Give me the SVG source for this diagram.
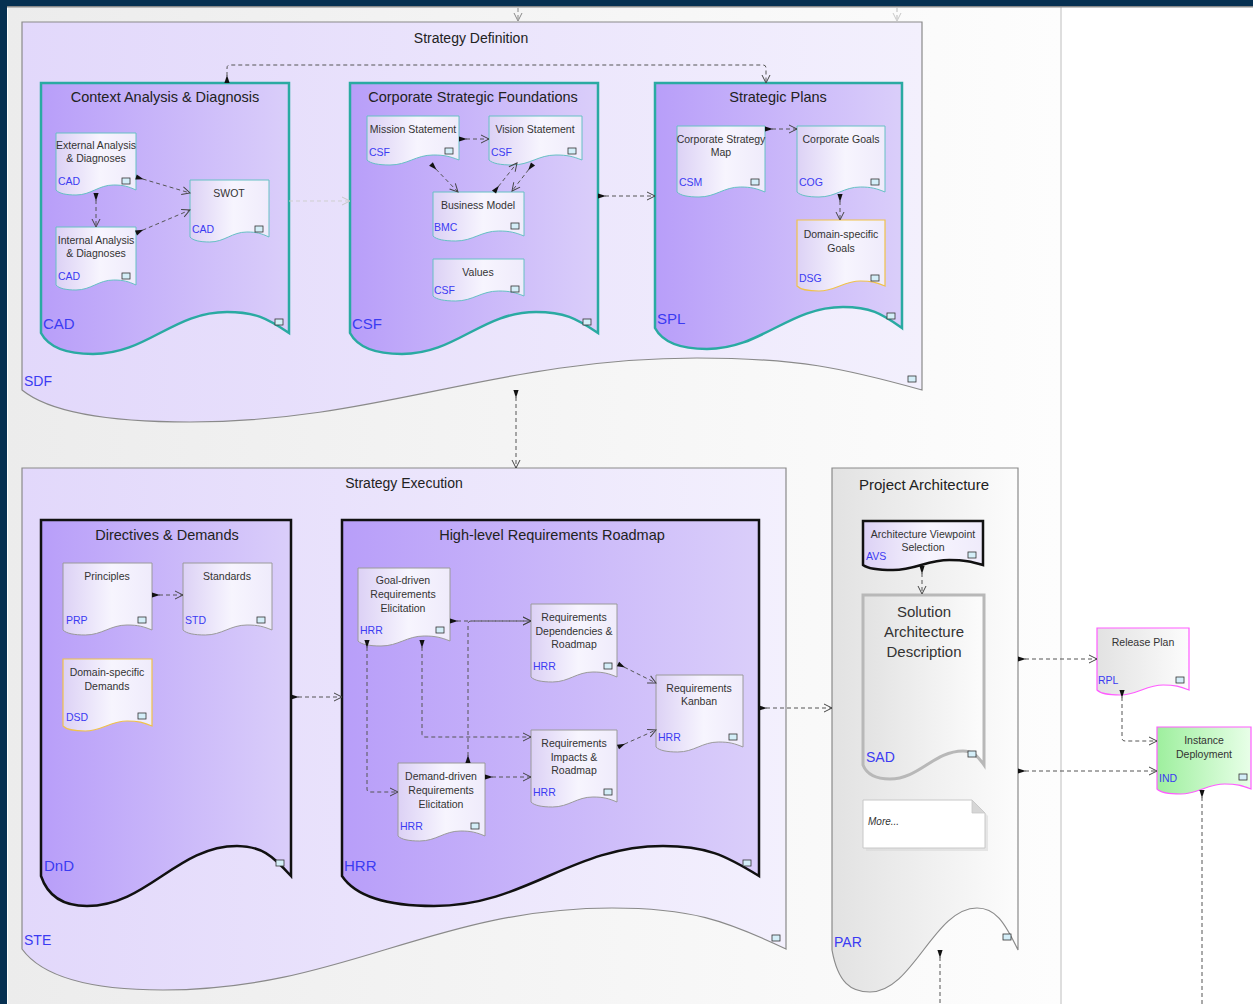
<svg xmlns="http://www.w3.org/2000/svg" width="1253" height="1004" viewBox="0 0 1253 1004">
<defs>
<linearGradient id="gBg" x1="0" y1="0" x2="1" y2="0"><stop offset="0" stop-color="#ececec"/><stop offset="1" stop-color="#fdfdfd"/></linearGradient>
<linearGradient id="gOuter" x1="0" y1="0" x2="1" y2="0"><stop offset="0" stop-color="#e2d8fb"/><stop offset="1" stop-color="#f3f0fd"/></linearGradient>
<linearGradient id="gInner" x1="0" y1="0" x2="1" y2="0"><stop offset="0" stop-color="#b89ef9"/><stop offset="1" stop-color="#dacefa"/></linearGradient>
<linearGradient id="gNode" x1="0" y1="0" x2="1" y2="0"><stop offset="0" stop-color="#dcd1f5"/><stop offset="0.55" stop-color="#f7f5fe"/><stop offset="1" stop-color="#efebfb"/></linearGradient>
<linearGradient id="gGray" x1="0" y1="0" x2="1" y2="0"><stop offset="0" stop-color="#e2e2e2"/><stop offset="1" stop-color="#fcfcfc"/></linearGradient>
<linearGradient id="gGreen" x1="0" y1="0" x2="1" y2="0"><stop offset="0" stop-color="#9eef9e"/><stop offset="1" stop-color="#e8ffe8"/></linearGradient>
<marker id="src" markerUnits="userSpaceOnUse" markerWidth="12" markerHeight="8" viewBox="-1 -4 12 8" refX="0" refY="0" orient="auto"><path d="M0,-2.6 L8,0 L0,2.6 Z" fill="#111"/></marker>
<marker id="arr" markerUnits="userSpaceOnUse" markerWidth="12" markerHeight="12" viewBox="-10 -6 12 12" refX="0" refY="0" orient="auto"><path d="M-8,-4 L0,0 L-8,4" fill="none" stroke="#444" stroke-width="1"/></marker>
<marker id="arrL" markerUnits="userSpaceOnUse" markerWidth="12" markerHeight="12" viewBox="-10 -6 12 12" refX="0" refY="0" orient="auto"><path d="M-8,-4 L0,0 L-8,4" fill="none" stroke="#c8c8c8" stroke-width="1"/></marker>
<marker id="arrG" markerUnits="userSpaceOnUse" markerWidth="12" markerHeight="12" viewBox="-10 -6 12 12" refX="0" refY="0" orient="auto"><path d="M-8,-4 L0,0 L-8,4" fill="none" stroke="#888" stroke-width="1"/></marker>
</defs>
<style>
text{font-family:"Liberation Sans",Arial,sans-serif}
.outer{fill:url(#gOuter);stroke:#8a8a8a;stroke-width:1.2}
.inner{fill:url(#gInner);stroke:#2aaaa2;stroke-width:2.5}
.innerB{fill:url(#gInner);stroke:#111;stroke-width:2.5}
.node{fill:url(#gNode);stroke:#66c0c4;stroke-width:1}
.nodeG{fill:url(#gNode);stroke:#9a9a9a;stroke-width:1}
.nodeY{fill:url(#gNode);stroke:#f0c24a;stroke-width:1.2}
.nodeP{fill:url(#gGray);stroke:#ff5cff;stroke-width:1.2}
.nodeGr{fill:url(#gGreen);stroke:#ff5cff;stroke-width:1.2}
.title{font-size:14.5px;fill:#222;text-anchor:middle}
.ttl{font-size:14px;fill:#222;text-anchor:middle}
.nt{font-size:10.5px;fill:#333;text-anchor:middle}
.code{font-size:10.5px;fill:#3b3bf2}
.codeB{font-size:15px;fill:#3b3bf2}
.ico{fill:#d4eef8;stroke:#333;stroke-width:0.8}
.conn{fill:none;stroke:#555;stroke-width:1;stroke-dasharray:4 3;marker-start:url(#src);marker-end:url(#arr)}
</style>

<!-- background -->
<rect x="0" y="0" width="1253" height="1004" fill="#ffffff"/>
<rect x="8" y="7" width="1052" height="997" fill="url(#gBg)"/>
<rect x="1060" y="7" width="2" height="997" fill="#dedede"/>
<rect x="0" y="0" width="1253" height="6" fill="#063051"/>
<rect x="0" y="6" width="1253" height="1.5" fill="#8a8a8a"/>
<rect x="0" y="0" width="7" height="1004" fill="#063051"/>

<!-- Strategy Definition -->
<g id="SDF">
<path class="outer" d="M22,22 H922 V390 C843,368 798,358 697,358 C498,358 379,422 190,422 C106,422 49,412 22,390 Z"/>
<text class="ttl" x="471" y="43">Strategy Definition</text>
<text class="codeB" x="24" y="386" style="font-size:14px">SDF</text>
<rect class="ico" x="908" y="376" width="8" height="6"/>
</g>

<g id="CAD">
<path class="inner" d="M41,83 H289 V333 C267,318 255,312 227,312 C173,312 147,354 93,354 C67,354 49,348 41,333 Z"/>
<text class="title" x="165" y="102">Context Analysis &amp; Diagnosis</text>
<text class="codeB" x="43" y="329">CAD</text>
<rect class="ico" x="275" y="319" width="8" height="6"/>
</g>
<g id="EXT">
<path class="node" d="M56,133 H136 V190 c-7.8,-3.5 -12.3,-5 -22.4,-5 c-15,0 -22.6,10 -37.6,10 c-10,0 -17,-1.5 -20,-5 Z"/>
<text class="nt" x="96" y="149">External Analysis</text>
<text class="nt" x="96" y="162">&amp; Diagnoses</text>
<text class="code" x="58" y="185">CAD</text>
<rect class="ico" x="122" y="178" width="8" height="6"/>
</g>
<g id="INT">
<path class="node" d="M56,227 H136 V285 c-7.8,-3.5 -12.3,-5 -22.4,-5 c-15,0 -22.6,10 -37.6,10 c-10,0 -17,-1.5 -20,-5 Z"/>
<text class="nt" x="96" y="244">Internal Analysis</text>
<text class="nt" x="96" y="257">&amp; Diagnoses</text>
<text class="code" x="58" y="280">CAD</text>
<rect class="ico" x="122" y="273" width="8" height="6"/>
</g>
<g id="SWOT">
<path class="node" d="M190,180 H269 V237 c-7.7,-3.5 -12.2,-5 -22.1,-5 c-14.9,0 -22.3,10 -37.15,10 c-9.9,0 -16.8,-1.5 -19.75,-5 Z"/>
<text class="nt" x="229" y="197">SWOT</text>
<text class="code" x="192" y="233">CAD</text>
<rect class="ico" x="255" y="226" width="8" height="6"/>
</g>

<g id="CSF">
<path class="inner" d="M350,83 H598 V333 C576,318 564,312 536,312 C482,312 456,354 402,354 C376,354 358,348 350,333 Z"/>
<text class="title" x="473" y="102">Corporate Strategic Foundations</text>
<text class="codeB" x="352" y="329">CSF</text>
<rect class="ico" x="583" y="319" width="8" height="6"/>
</g>
<g id="MIS">
<path class="node" d="M367,116 H459 V160 c-9,-3.5 -14.2,-5 -25.76,-5 c-17.3,0 -25.9,10 -43.24,10 c-11.5,0 -19.6,-1.5 -23,-5 Z"/>
<text class="nt" x="413" y="133">Mission Statement</text>
<text class="code" x="369" y="156">CSF</text>
<rect class="ico" x="445" y="148" width="8" height="6"/>
</g>
<g id="VIS">
<path class="node" d="M489,116 H582 V160 c-9.1,-3.5 -14.3,-5 -26.04,-5 c-17.5,0 -26.2,10 -43.71,10 c-11.6,0 -19.8,-1.5 -23.25,-5 Z"/>
<text class="nt" x="535" y="133">Vision Statement</text>
<text class="code" x="491" y="156">CSF</text>
<rect class="ico" x="568" y="148" width="8" height="6"/>
</g>
<g id="BMC">
<path class="node" d="M433,192 H524 V236 c-8.9,-3.5 -14,-5 -25.48,-5 c-17.1,0 -25.7,10 -42.77,10 c-11.4,0 -19.3,-1.5 -22.75,-5 Z"/>
<text class="nt" x="478" y="209">Business Model</text>
<text class="code" x="434" y="231">BMC</text>
<rect class="ico" x="511" y="223" width="8" height="6"/>
</g>
<g id="VAL">
<path class="node" d="M433,259 H524 V296 c-8.9,-3.5 -14,-5 -25.48,-5 c-17.1,0 -25.7,10 -42.77,10 c-11.4,0 -19.3,-1.5 -22.75,-5 Z"/>
<text class="nt" x="478" y="276">Values</text>
<text class="code" x="434" y="294">CSF</text>
<rect class="ico" x="511" y="286" width="8" height="6"/>
</g>

<g id="SPL">
<path class="inner" d="M655,83 H902 V328 C881,313 870,307 843,307 C789,307 761,349 707,349 C681,349 663,343 655,328 Z"/>
<text class="title" x="778" y="102">Strategic Plans</text>
<text class="codeB" x="657" y="324">SPL</text>
<rect class="ico" x="887" y="313" width="8" height="6"/>
</g>
<g id="CSM">
<path class="node" d="M677,126 H765 V192 c-8.6,-3.5 -13.6,-5 -24.64,-5 c-16.5,0 -24.8,10 -41.36,10 c-11,0 -18.7,-1.5 -22,-5 Z"/>
<text class="nt" x="721" y="143">Corporate Strategy</text>
<text class="nt" x="721" y="156">Map</text>
<text class="code" x="679" y="186">CSM</text>
<rect class="ico" x="751" y="179" width="8" height="6"/>
</g>
<g id="COG">
<path class="node" d="M797,126 H885 V192 c-8.6,-3.5 -13.6,-5 -24.64,-5 c-16.5,0 -24.8,10 -41.36,10 c-11,0 -18.7,-1.5 -22,-5 Z"/>
<text class="nt" x="841" y="143">Corporate Goals</text>
<text class="code" x="799" y="186">COG</text>
<rect class="ico" x="871" y="179" width="8" height="6"/>
</g>
<g id="DSG">
<path class="nodeY" d="M797,220 H885 V286 c-8.6,-3.5 -13.6,-5 -24.64,-5 c-16.5,0 -24.8,10 -41.36,10 c-11,0 -18.7,-1.5 -22,-5 Z"/>
<text class="nt" x="841" y="238">Domain-specific</text>
<text class="nt" x="841" y="252">Goals</text>
<text class="code" x="799" y="282">DSG</text>
<rect class="ico" x="871" y="275" width="8" height="6"/>
</g>

<!-- Strategy Execution -->
<g id="STE">
<path class="outer" d="M22,468 H786 V949 C725,920 690,908 612,908 C432,908 343,990 163,990 C93,990 43,978 22,949 Z"/>
<text class="ttl" x="404" y="488">Strategy Execution</text>
<text class="codeB" x="24" y="945" style="font-size:14px">STE</text>
<rect class="ico" x="772" y="935" width="8" height="6"/>
</g>

<g id="DND">
<path class="innerB" d="M41,520 H291 V876 C272,855 261,846 237,846 C177,846 147,906 87,906 C64,906 48,897 41,876 Z"/>
<text class="title" x="167" y="540">Directives &amp; Demands</text>
<text class="codeB" x="44" y="871">DnD</text>
<rect class="ico" x="276" y="860" width="8" height="6"/>
</g>
<g id="PRP">
<path class="nodeG" d="M63,563 H152 V630 c-8.7,-3.5 -13.7,-5 -24.92,-5 c-16.7,0 -25.1,10 -41.83,10 c-11.1,0 -18.9,-1.5 -22.25,-5 Z"/>
<text class="nt" x="107" y="580">Principles</text>
<text class="code" x="66" y="624">PRP</text>
<rect class="ico" x="138" y="617" width="8" height="6"/>
</g>
<g id="STD">
<path class="nodeG" d="M183,563 H272 V630 c-8.7,-3.5 -13.7,-5 -24.92,-5 c-16.7,0 -25.1,10 -41.83,10 c-11.1,0 -18.9,-1.5 -22.25,-5 Z"/>
<text class="nt" x="227" y="580">Standards</text>
<text class="code" x="185" y="624">STD</text>
<rect class="ico" x="257" y="617" width="8" height="6"/>
</g>
<g id="DSD">
<path class="nodeY" d="M63,659 H152 V726 c-8.7,-3.5 -13.7,-5 -24.92,-5 c-16.7,0 -25.1,10 -41.83,10 c-11.1,0 -18.9,-1.5 -22.25,-5 Z"/>
<text class="nt" x="107" y="676">Domain-specific</text>
<text class="nt" x="107" y="690">Demands</text>
<text class="code" x="66" y="721">DSD</text>
<rect class="ico" x="138" y="713" width="8" height="6"/>
</g>

<g id="HRR">
<path class="innerB" d="M342,520 H759 V876 C725,855 706,846 663,846 C571,846 526,906 434,906 C388,906 356,897 342,876 Z"/>
<text class="title" x="552" y="540">High-level Requirements Roadmap</text>
<text class="codeB" x="344" y="871">HRR</text>
<rect class="ico" x="743" y="860" width="8" height="6"/>
</g>
<g id="GRE">
<path class="nodeG" d="M358,568 H450 V641 c-9,-3.5 -14.2,-5 -25.76,-5 c-17.3,0 -25.9,10 -43.24,10 c-11.5,0 -19.6,-1.5 -23,-5 Z"/>
<text class="nt" x="403" y="584">Goal-driven</text>
<text class="nt" x="403" y="598">Requirements</text>
<text class="nt" x="403" y="612">Elicitation</text>
<text class="code" x="360" y="634">HRR</text>
<rect class="ico" x="436" y="627" width="8" height="6"/>
</g>
<g id="RDR">
<path class="nodeG" d="M531,604 H617 V677 c-8.4,-3.5 -13.2,-5 -24.08,-5 c-16.2,0 -24.2,10 -40.42,10 c-10.75,0 -18.3,-1.5 -21.5,-5 Z"/>
<text class="nt" x="574" y="621">Requirements</text>
<text class="nt" x="574" y="635">Dependencies &amp;</text>
<text class="nt" x="574" y="648">Roadmap</text>
<text class="code" x="533" y="670">HRR</text>
<rect class="ico" x="604" y="663" width="8" height="6"/>
</g>
<g id="KAN">
<path class="nodeG" d="M656,675 H743 V747 c-8.5,-3.5 -13.4,-5 -24.36,-5 c-16.4,0 -24.5,10 -40.89,10 c-10.9,0 -18.5,-1.5 -21.75,-5 Z"/>
<text class="nt" x="699" y="692">Requirements</text>
<text class="nt" x="699" y="705">Kanban</text>
<text class="code" x="658" y="741">HRR</text>
<rect class="ico" x="729" y="734" width="8" height="6"/>
</g>
<g id="RIR">
<path class="nodeG" d="M531,730 H617 V802 c-8.4,-3.5 -13.2,-5 -24.08,-5 c-16.2,0 -24.2,10 -40.42,10 c-10.75,0 -18.3,-1.5 -21.5,-5 Z"/>
<text class="nt" x="574" y="747">Requirements</text>
<text class="nt" x="574" y="761">Impacts &amp;</text>
<text class="nt" x="574" y="774">Roadmap</text>
<text class="code" x="533" y="796">HRR</text>
<rect class="ico" x="604" y="789" width="8" height="6"/>
</g>
<g id="DRE">
<path class="nodeG" d="M398,763 H485 V836 c-8.5,-3.5 -13.4,-5 -24.36,-5 c-16.4,0 -24.5,10 -40.89,10 c-10.9,0 -18.5,-1.5 -21.75,-5 Z"/>
<text class="nt" x="441" y="780">Demand-driven</text>
<text class="nt" x="441" y="794">Requirements</text>
<text class="nt" x="441" y="808">Elicitation</text>
<text class="code" x="400" y="830">HRR</text>
<rect class="ico" x="471" y="823" width="8" height="6"/>
</g>

<!-- Project Architecture -->
<g id="PAR">
<path d="M832,468 H1018 V950 C1004,921 995,908 977,908 C934,908 913,992 870,992 C851,992 838,983 832,950 Z" fill="url(#gGray)" stroke="#8a8a8a" stroke-width="1.2"/>
<text class="ttl" x="924" y="490" style="font-size:15px">Project Architecture</text>
<text class="codeB" x="834" y="947" style="font-size:14px">PAR</text>
<rect class="ico" x="1003" y="934" width="8" height="6"/>
</g>
<g id="AVS">
<path d="M863,521 H983 V565 c-11.8,-3.5 -18.5,-5 -33.6,-5 c-22.6,0 -33.8,10 -56.4,10 c-15,0 -25.5,-1.5 -30,-5 Z" fill="url(#gNode)" stroke="#111" stroke-width="2.5"/>
<text class="nt" x="923" y="538">Architecture Viewpoint</text>
<text class="nt" x="923" y="551">Selection</text>
<text class="code" x="866" y="560">AVS</text>
<rect class="ico" x="968" y="552" width="8" height="6"/>
</g>
<g id="SAD">
<path d="M863,595 H984 V765 C977,755 972,751 963,751 C934,751 919,779 890,779 C876,779 867,775 863,765 Z" fill="url(#gGray)" stroke="#b8b8b8" stroke-width="3"/>
<text class="ttl" x="924" y="617" style="font-size:15px;fill:#333">Solution</text>
<text class="ttl" x="924" y="637" style="font-size:15px;fill:#333">Architecture</text>
<text class="ttl" x="924" y="657" style="font-size:15px;fill:#333">Description</text>
<text class="codeB" x="866" y="762" style="font-size:14px">SAD</text>
<rect class="ico" x="968" y="751" width="8" height="6"/>
</g>
<g id="MORE">
<path d="M866,803 H975 L988,816 V851 H866 Z" fill="#d8d8d8" opacity="0.6"/>
<path d="M863,800 H972 L985,813 V848 H863 Z" fill="#ffffff" stroke="#c8c8c8" stroke-width="1"/>
<path d="M972,800 V813 H985 Z" fill="#d6d6d6" stroke="#c8c8c8" stroke-width="0.8"/>
<text x="868" y="825" style="font-size:10px;font-style:italic;fill:#333">More...</text>
</g>
<g id="RPL">
<path class="nodeP" d="M1097,628 H1189 V690 c-9,-3.5 -14.2,-5 -25.76,-5 c-17.3,0 -25.9,10 -43.24,10 c-11.5,0 -19.6,-1.5 -23,-5 Z"/>
<text class="nt" x="1143" y="646">Release Plan</text>
<text class="code" x="1098" y="684">RPL</text>
<rect class="ico" x="1176" y="677" width="8" height="6"/>
</g>
<g id="IND">
<path class="nodeGr" d="M1157,727 H1251 V789 c-9.2,-3.5 -14.5,-5 -26.32,-5 c-17.7,0 -26.5,10 -44.18,10 c-11.75,0 -20,-1.5 -23.5,-5 Z"/>
<text class="nt" x="1204" y="744">Instance</text>
<text class="nt" x="1204" y="758">Deployment</text>
<text class="code" x="1159" y="782">IND</text>
<rect class="ico" x="1239" y="774" width="8" height="6"/>
</g>

<!-- connectors -->
<g id="connectors">
<path d="M518,8 V21" fill="none" stroke="#888" stroke-dasharray="4 3" marker-end="url(#arrG)"/>
<path d="M897,8 V21" fill="none" stroke="#bbb" stroke-dasharray="4 3" marker-end="url(#arrL)"/>
<path class="conn" d="M227,83 V68 Q227,65 230,65 H763 Q766,65 766,68 V83"/>
<path d="M289,201 H350" fill="none" stroke="#cfcfcf" stroke-dasharray="4 3" marker-end="url(#arrL)"/>
<path class="conn" d="M598,196 H655"/>
<path class="conn" d="M136,177 L190,193"/>
<path class="conn" d="M96,193 V227"/>
<path class="conn" d="M136,233 L190,210"/>
<path class="conn" d="M459,139 H489"/>
<path class="conn" d="M431,164 L458,192"/>
<path class="conn" d="M494,192 L517,163"/>
<path class="conn" d="M533,164 L512,191"/>
<path class="conn" d="M765,129 H797"/>
<path class="conn" d="M840,194 V220"/>
<path class="conn" d="M516,390 V468"/>
<path class="conn" d="M152,595 H183"/>
<path class="conn" d="M291,697 H342"/>
<path class="conn" d="M450,621 H531"/>
<path class="conn" d="M468,763 V624 Q468,621 471,621 H531"/>
<path class="conn" d="M422,640 V734 Q422,737 425,737 H531"/>
<path class="conn" d="M367,640 V789 Q367,792 370,792 H398"/>
<path class="conn" d="M485,777 H531"/>
<path class="conn" d="M618,664 L656,683"/>
<path class="conn" d="M618,747 L656,730"/>
<path class="conn" d="M759,708 H832"/>
<path class="conn" d="M922,566 V594"/>
<path class="conn" d="M1018,659 H1097"/>
<path class="conn" d="M1018,771 H1157"/>
<path class="conn" d="M1122,690 V738 Q1122,741 1125,741 H1157"/>
<path class="conn" d="M1202,790 V1004" style="marker-end:none"/>
<path class="conn" d="M940,950 V1004" style="marker-end:none"/>
</g>
</svg>
